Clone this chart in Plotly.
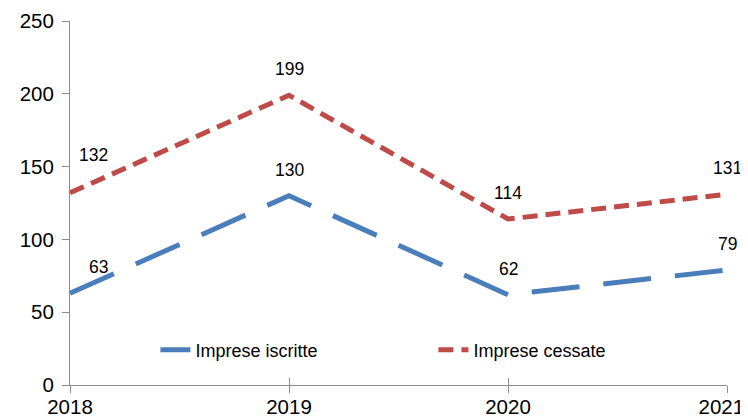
import plotly.graph_objects as go

years = [2018, 2019, 2020, 2021]
iscritte = [63, 130, 62, 79]
cessate = [132, 199, 114, 131]
y_ticks = [0, 50, 100, 150, 200, 250]
# last label padded so it stays inside the page edge, as in the reference
x_ticktext = ["2018", "2019", "2020", "2021&nbsp;&nbsp;"]

# label offsets (px) per point: (xshift, yshift)
iscritte_off = [(28, 26), (0, 26), (0, 26), (0, 26)]
cessate_off = [(23, 38), (0, 26), (0, 26), (0, 26)]

BLUE = "#4A7EBB"
RED = "#BE4B48"
AXIS = "#8C8C8C"
FONT = "Liberation Sans, Arial, sans-serif"

fig = go.Figure()
fig.add_trace(go.Scatter(
    x=years, y=iscritte, mode="lines", name="Imprese iscritte",
    line=dict(color=BLUE, width=5, dash="48px,24px"),
))
fig.add_trace(go.Scatter(
    x=years, y=cessate, mode="lines", name="Imprese cessate",
    line=dict(color=RED, width=5, dash="15px,8px"),
))

annotations = []
for xs, vals, offs in [(years, iscritte, iscritte_off), (years, cessate, cessate_off)]:
    for x, v, (dx, dy) in zip(xs, vals, offs):
        annotations.append(dict(
            x=x, y=v, text=str(v), showarrow=False,
            xshift=dx, yshift=dy,
            font=dict(family=FONT, size=17.5, color="#000000"),
        ))

# page body has an 8px default margin, so the figure is sized 740x412
fig.update_layout(
    width=740, height=412,
    margin=dict(l=62, r=21, t=13, b=35),
    paper_bgcolor="white", plot_bgcolor="white",
    font=dict(family=FONT, color="#000000"),
    showlegend=True,
    legend=dict(
        orientation="h", x=0.13, y=0.096, xanchor="left", yanchor="middle",
        font=dict(family=FONT, size=18, color="#000000"),
        entrywidth=233, entrywidthmode="pixels",
        bgcolor="rgba(0,0,0,0)",
    ),
    xaxis=dict(
        range=[2018, 2021], tickvals=years, ticktext=x_ticktext,
        showgrid=False, zeroline=False, automargin=False,
        showline=True, linecolor=AXIS, linewidth=1,
        ticks="outside", ticklen=7, tickcolor=AXIS,
        ticklabeloverflow="allow", ticklabelstandoff=-4,
        tickfont=dict(family=FONT, size=20.5, color="#000000"),
    ),
    xaxis2=dict(
        range=[2018, 2021], tickvals=years, overlaying="x", anchor="y",
        side="bottom", showticklabels=False, showgrid=False, zeroline=False,
        automargin=False,
        showline=False, ticks="inside", ticklen=7, tickcolor=AXIS,
    ),
    yaxis=dict(
        range=[0, 250], tickvals=y_ticks,
        showgrid=False, zeroline=False, automargin=False,
        showline=True, linecolor=AXIS, linewidth=1,
        ticks="outside", ticklen=7, tickcolor=AXIS,
        ticklabelstandoff=4, ticklabeloverflow="allow",
        tickfont=dict(family=FONT, size=20.5, color="#000000"),
    ),
    annotations=annotations,
)
# invisible trace to activate xaxis2 (for crossing tick marks)
fig.add_trace(go.Scatter(x=[2018], y=[0], xaxis="x2", mode="markers",
                         marker=dict(opacity=0), showlegend=False, hoverinfo="skip"))

fig.write_html("out.html")
